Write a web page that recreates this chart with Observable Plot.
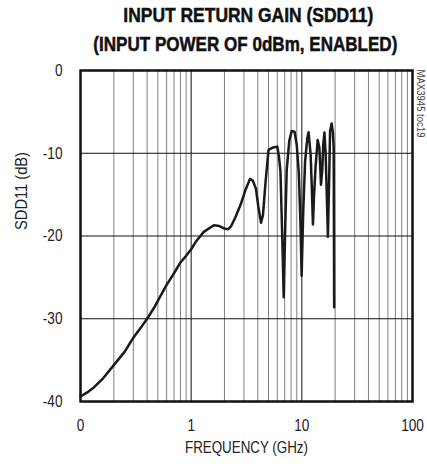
<!DOCTYPE html>
<html><head><meta charset="utf-8">
<script src="https://cdn.jsdelivr.net/npm/d3@7"></script>
<script src="https://cdn.jsdelivr.net/npm/@observablehq/plot@0.6"></script>
<style>
body{margin:0;background:#fff;overflow:hidden;}
#title{position:relative;width:427px;height:62px;font-family:"Liberation Sans",Arial,sans-serif;font-weight:bold;font-size:20px;line-height:28.5px;color:#111;white-space:nowrap;-webkit-text-stroke:0.5px #111;}
#title div{position:absolute;left:0;width:0;text-align:center;}
#title span{display:inline-block;transform-origin:center;position:absolute;}
</style></head><body>
<div id="title"><div id="t1"><span>INPUT RETURN GAIN (SDD11)</span></div><div id="t2"><span>(INPUT POWER OF 0dBm, ENABLED)</span></div></div>
<div id="chart"></div>
<script>
const titleLines = ["INPUT RETURN GAIN (SDD11)","(INPUT POWER OF 0dBm, ENABLED)"];
const freqGHz = [0.1,0.115,0.132,0.16,0.2,0.25,0.3,0.35,0.4,0.47,0.53,0.6,0.7,0.8,0.9,1.0,1.1,1.3,1.6,1.8,2.0,2.15,2.3,2.5,2.8,3.1,3.4,3.6,3.85,4.05,4.28,4.45,4.7,5.0,5.5,6.0,6.2,6.41,6.65,6.86,7.05,7.3,7.7,8.1,8.6,9.0,9.4,9.7,9.96,10.3,10.7,11.2,11.5,12.0,12.3,12.6,12.9,13.3,13.9,14.4,14.9,15.3,15.6,16.0,16.4,16.8,17.2,17.6,18.0,18.6,19.1,19.4,19.6];
const sdd11dB = [-39.4,-38.9,-38.3,-37.2,-35.6,-34.0,-32.3,-31.1,-30.0,-28.5,-27.2,-25.9,-24.5,-23.2,-22.4,-21.6,-20.7,-19.5,-18.7,-18.8,-19.1,-19.2,-18.8,-17.8,-16.2,-14.4,-13.1,-13.3,-14.3,-16.5,-18.4,-17.5,-13.5,-9.6,-9.3,-9.2,-10.3,-12.2,-20,-27.4,-20,-12,-8.5,-7.3,-7.4,-9,-12.5,-18,-24.8,-17,-11,-8.2,-7.45,-10.1,-14,-18.6,-15,-11.7,-8.4,-9.3,-13.8,-12,-9,-7.5,-10,-15,-20.1,-14,-7.3,-6.4,-7.5,-9.3,-28.6];
const xTicks = [0.1,1,10,100];
const xTickLabels = ["0","1","10","100"];
const yTicks = [0,-10,-20,-30,-40];
const yGrid = [-10,-20,-30];
const decadeGrid = [1,10];
const minorGrid = [0.2,0.3,0.4,0.5,0.6,0.7,0.8,0.9,2,3,4,5,6,7,8,9,20,30,40,50,60,70,80,90];
const xLabel = "FREQUENCY (GHz)";
const yLabel = "SDD11 (dB)";
const noteLabel = "MAX3945 toc19";

// title layout: center x, top y, target width
const titleLayout = [{id:"t1", cx:248, top:1, w:250}, {id:"t2", cx:245, top:29.5, w:304}];
titleLayout.forEach((L,i) => {
  const span = document.querySelector("#"+L.id+" span");
  span.textContent = titleLines[i];
  const nat = span.getBoundingClientRect().width;
  span.style.left = (L.cx - nat/2) + "px";
  span.style.top = L.top + "px";
  span.style.transform = `scaleX(${L.w/nat})`;
});

const data = freqGHz.map((f,i)=>({f, v: sdd11dB[i]}));

const chart = Plot.plot({
  width:427, height:402,
  marginTop:8, marginBottom:63, marginLeft:80, marginRight:15,
  x:{type:"log", domain:[0.1,100]},
  y:{domain:[-40,0]},
  style:{fontFamily:"'Liberation Sans', Arial, sans-serif", fontSize:"17px", color:"#222", background:"white"},
  marks:[
    Plot.ruleX(minorGrid,{stroke:"#808080", strokeWidth:1}),
    Plot.ruleX(decadeGrid,{stroke:"#111", strokeWidth:1}),
    Plot.ruleY(yGrid,{stroke:"#111", strokeWidth:1}),
    Plot.line(data,{x:"f", y:"v", stroke:"#1a1a1a", strokeWidth:2.5, strokeLinejoin:"round"}),
    Plot.frame({stroke:"#111", strokeWidth:2.5}),
    Plot.axisX({ticks:xTicks, tickFormat:d=>xTickLabels[xTicks.indexOf(d)], tickSize:0, tickPadding:17, label:null}),
    Plot.axisY({ticks:yTicks, tickFormat:d=>String(d), tickSize:0, tickPadding:18, label:null}),
    Plot.text([yLabel], {frameAnchor:"left", dx:-59, dy:-6, rotate:-90, fontSize:16}),
    Plot.text([xLabel], {frameAnchor:"bottom", dy:46, fontSize:16, lineAnchor:"middle"}),
    Plot.text([noteLabel], {frameAnchor:"top-right", dx:8, dy:33, rotate:90, fontSize:11, fill:"#444", textAnchor:"middle", lineAnchor:"middle"})
  ]
});
document.getElementById("chart").appendChild(chart);

// condense text horizontally to mimic the narrow typeface
const targets = {[xLabel]:123, [yLabel]:78, [noteLabel]:68};
chart.querySelectorAll("text").forEach(t => {
  const len = t.getComputedTextLength();
  if (!len) return;
  const s = t.textContent;
  const target = targets[s] !== undefined ? targets[s] : len * 0.8;
  t.setAttribute("textLength", target);
  t.setAttribute("lengthAdjust", "spacingAndGlyphs");
});
</script>
</body></html>
